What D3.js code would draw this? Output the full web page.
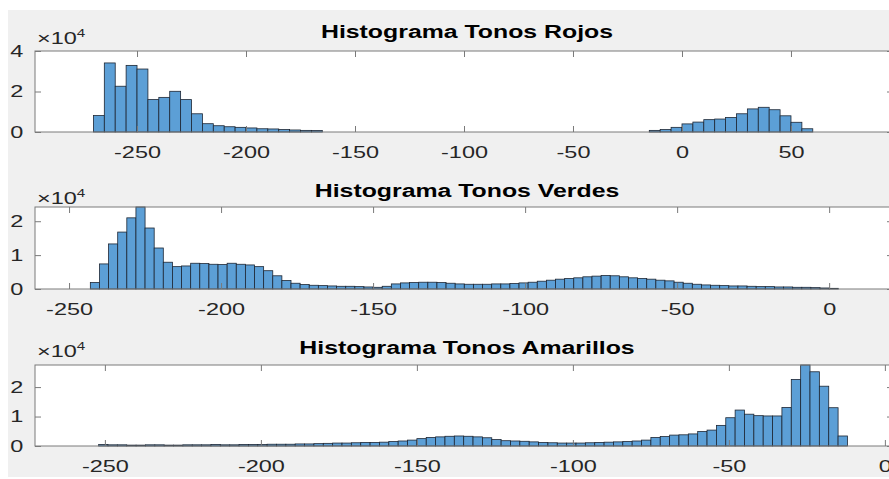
<!DOCTYPE html>
<html>
<head>
<meta charset="utf-8">
<script src="https://cdn.jsdelivr.net/npm/d3@7"></script>
<style>
  body { margin: 0; background: #fff; }
  svg text { font-family: "Liberation Sans", Arial, Helvetica, sans-serif; }
</style>
</head>
<body>
<div id="chart"></div>
<script>
// Conteos por bin en unidades de 10^4
// Rojos: bins de 5, dos grupos
const rojosInicioA = -270;
const rojosA = [0.81, 3.41, 2.26, 3.29, 3.11, 1.6, 1.71, 2.01, 1.6, 0.9, 0.41, 0.31, 0.26, 0.23, 0.2, 0.16, 0.15, 0.12, 0.1, 0.08, 0.07];
const rojosInicioB = -15;
const rojosB = [0.08, 0.12, 0.23, 0.4, 0.49, 0.61, 0.64, 0.72, 0.9, 1.14, 1.22, 1.1, 0.8, 0.48, 0.16];
const rojosAncho = 5;

// Verdes: bins de 3 desde -243
const verdesInicio = -243;
const verdes = [0.19, 0.74, 1.33, 1.68, 2.1, 2.42, 1.8, 1.21, 0.79, 0.66, 0.68, 0.76, 0.75, 0.73, 0.72, 0.76, 0.73, 0.71, 0.66, 0.54,
  0.39, 0.25, 0.17, 0.13, 0.11, 0.1, 0.09, 0.08, 0.08, 0.07, 0.06, 0.05, 0.08, 0.15, 0.18, 0.19, 0.2, 0.2, 0.19, 0.17,
  0.15, 0.14, 0.14, 0.14, 0.15, 0.15, 0.16, 0.18, 0.2, 0.23, 0.26, 0.29, 0.31, 0.33, 0.36, 0.38, 0.4, 0.39, 0.36, 0.33,
  0.31, 0.29, 0.26, 0.24, 0.2, 0.17, 0.14, 0.12, 0.11, 0.1, 0.09, 0.09, 0.08, 0.07, 0.07, 0.06, 0.06, 0.05, 0.05, 0.04,
  0.03, 0.02];
const verdesAncho = 3;

// Amarillos: bins de 3 desde -252
const amarillosInicio = -252;
const amarillos = [0.05, 0.04, 0.04, 0.03, 0.03, 0.04, 0.04, 0.03, 0.03, 0.04, 0.04, 0.04, 0.05, 0.04, 0.04, 0.05, 0.05, 0.05, 0.06, 0.06,
  0.06, 0.07, 0.07, 0.08, 0.09, 0.1, 0.1, 0.11, 0.12, 0.12, 0.13, 0.15, 0.17, 0.2, 0.25, 0.29, 0.31, 0.33, 0.34, 0.33,
  0.31, 0.28, 0.22, 0.18, 0.17, 0.16, 0.14, 0.12, 0.11, 0.1, 0.1, 0.1, 0.11, 0.12, 0.13, 0.14, 0.15, 0.17, 0.2, 0.29,
  0.32, 0.37, 0.38, 0.41, 0.49, 0.54, 0.7, 0.96, 1.22, 1.08, 1.03, 1.02, 1.02, 1.31, 2.26, 2.75, 2.52, 2.03, 1.3, 0.34];
const amarillosAncho = 3;

const titulos = ["Histograma Tonos Rojos", "Histograma Tonos Verdes", "Histograma Tonos Amarillos"];
const xTicksRojos = [-250, -200, -150, -100, -50, 0, 50];
const xTicksOtros = [-250, -200, -150, -100, -50, 0];
const yTicksRojos = [0, 2, 4];
const yTicksOtros = [0, 1, 2];

function bins(inicio, ancho, cuentas) {
  return cuentas.map((n, i) => ({ x0: inicio + i * ancho, x1: inicio + (i + 1) * ancho, n: n }));
}

const W = 889, H = 479;
const left = 35, right = 893;
const sx = 1.38; // la figura original está estirada en horizontal
const etiqueta = d => String(d); // guion normal, como en MATLAB

const paneles = [
  { titulo: titulos[0], datos: bins(rojosInicioA, rojosAncho, rojosA).concat(bins(rojosInicioB, rojosAncho, rojosB)),
    xlim: [-296.8, 96.8], ymax: 4, xticks: xTicksRojos, yticks: yTicksRojos, top: 51, base: 132, tituloY: 37.5, expY: 43.5 },
  { titulo: titulos[1], datos: bins(verdesInicio, verdesAncho, verdes),
    xlim: [-261.2, 21], ymax: 2.42, xticks: xTicksOtros, yticks: yTicksOtros, top: 207, base: 289, tituloY: 197, expY: 203.5 },
  { titulo: titulos[2], datos: bins(amarillosInicio, amarillosAncho, amarillos),
    xlim: [-272.4, 2.6], ymax: 2.75, xticks: xTicksOtros, yticks: yTicksOtros, top: 365, base: 446, tituloY: 353.5, expY: 357 }
];

const svg = d3.select("#chart").append("svg")
  .attr("width", W)
  .attr("height", H);

svg.append("rect")
  .attr("x", 8).attr("y", 10)
  .attr("width", W - 8).attr("height", H - 12)
  .attr("fill", "#f0f0f0");

paneles.forEach(p => {
  const x = d3.scaleLinear().domain(p.xlim).range([left, right]);
  const y = d3.scaleLinear().domain([0, p.ymax]).range([p.base, p.top]);
  const g = svg.append("g");

  g.append("rect")
    .attr("x", left).attr("y", p.top)
    .attr("width", right - left).attr("height", p.base - p.top)
    .attr("fill", "#fff");

  // barras
  g.append("g")
    .selectAll("rect")
    .data(p.datos)
    .enter()
    .append("rect")
    .attr("x", d => x(d.x0))
    .attr("width", d => x(d.x1) - x(d.x0))
    .attr("y", d => y(d.n))
    .attr("height", d => y(0) - y(d.n))
    .attr("fill", "#5c9fd6")
    .attr("stroke", "#1d2633")
    .attr("stroke-width", 0.8);

  // ejes
  const ejeX = g.append("g")
    .attr("transform", `translate(0,${p.base})`)
    .attr("color", "#7a7a7a")
    .call(d3.axisBottom(x).tickValues(p.xticks).tickFormat(etiqueta).tickSize(-6).tickSizeOuter(0).tickPadding(14));
  const ejeY = g.append("g")
    .attr("transform", `translate(${left},0)`)
    .attr("color", "#7a7a7a")
    .call(d3.axisLeft(y).tickValues(p.yticks).tickFormat(etiqueta).tickSize(-6).tickSizeOuter(0).tickPadding(8.5));
  g.append("g")
    .attr("transform", `translate(0,${p.top})`)
    .attr("color", "#7a7a7a")
    .call(d3.axisTop(x).tickValues(p.xticks).tickSize(-6).tickSizeOuter(0).tickFormat(""));
  g.append("g")
    .attr("transform", `translate(${right},0)`)
    .attr("color", "#7a7a7a")
    .call(d3.axisRight(y).tickValues(p.yticks).tickSize(-6).tickSizeOuter(0).tickFormat(""));

  g.selectAll(".domain").remove();
  [ejeX, ejeY].forEach(e => e.selectAll("text")
    .attr("fill", "#262626")
    .style("font-size", "17px")
    .attr("transform", `scale(${sx},1)`));

  g.append("rect")
    .attr("x", left).attr("y", p.top)
    .attr("width", right - left).attr("height", p.base - p.top)
    .attr("fill", "none")
    .attr("stroke", "#7a7a7a")
    .attr("stroke-width", 1);

  // multiplicador
  const exp = g.append("text")
    .attr("transform", `translate(37,${p.expY}) scale(${sx},1)`)
    .attr("fill", "#262626")
    .style("font-size", "17px");
  exp.append("tspan").text("×10");
  exp.append("tspan").attr("dy", -7).style("font-size", "11px").text("4");

  // titulo
  g.append("text")
    .attr("transform", `translate(${(left + right) / 2 + 3},${p.tituloY}) scale(${sx},1)`)
    .attr("text-anchor", "middle")
    .attr("fill", "#000")
    .style("font-size", "18px")
    .style("font-weight", "bold")
    .text(p.titulo);
});
</script>
</body>
</html>
